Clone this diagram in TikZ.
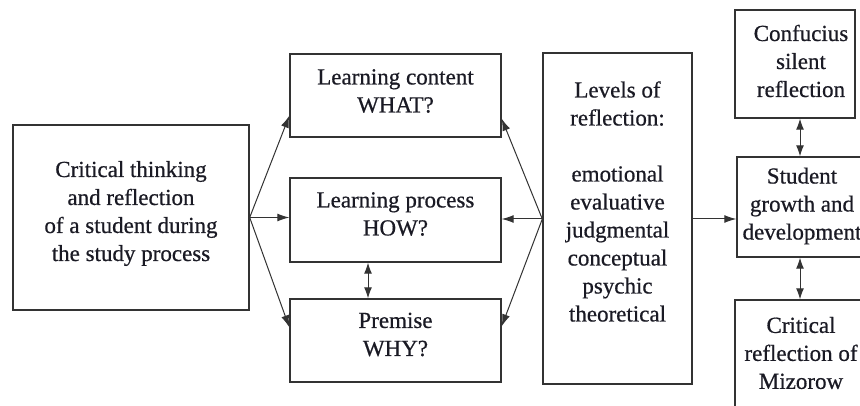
\documentclass[tikz,border=0pt]{standalone}
\usepackage{fontspec}
\setmainfont[FakeBold=0.6]{Liberation Serif}
\usetikzlibrary{arrows.meta,calc}
\definecolor{linec}{HTML}{333333}
\definecolor{textc}{HTML}{1A1A24}
\tikzset{
  box/.style={draw=linec, line width=1.4pt, inner sep=0pt, fill=white},
  txt/.style={align=center, text=textc, font=\fontsize{23}{28}\selectfont, inner sep=0pt},
  conn/.style={draw=linec, line width=1pt, -{Latex[length=12pt,width=8pt]}},
  dconn/.style={draw=linec, line width=1pt, {Latex[length=11pt,width=8pt]}-{Latex[length=11pt,width=8pt]}}
}
\begin{document}
\begin{tikzpicture}[x=1pt,y=-1pt]
\useasboundingbox (0,0) rectangle (860,406);
\clip (0,0) rectangle (860,406);
\fill[white] (0,0) rectangle (860,406);

\node[box, minimum width=236pt, minimum height=185pt,
  label={[txt, yshift=4pt]center:{Critical thinking\\and reflection\\of a student during\\the study process}}]
  (left) at (131,217.5) {};
\node[box, minimum width=211pt, minimum height=83pt,
  label={[txt, yshift=4.5pt]center:{Learning content\\WHAT?}}]
  (lc) at (395.5,95.5) {};
\node[box, minimum width=211pt, minimum height=84pt,
  label={[txt, yshift=6pt]center:{Learning process\\HOW?}}]
  (lp) at (395.5,220) {};
\node[box, minimum width=211pt, minimum height=83pt,
  label={[txt, yshift=6pt]center:{Premise\\WHY?}}]
  (pr) at (395.5,340.5) {};
\node[box, minimum width=149pt, minimum height=331pt,
  label={[txt, yshift=17pt]center:{Levels of\\reflection:\\[28pt]emotional\\evaluative\\judgmental\\conceptual\\psychic\\theoretical}}]
  (lv) at (617.5,218.5) {};
\node[box, minimum width=120pt, minimum height=108pt,
  label={[txt, yshift=3pt, xshift=6pt]center:{Confucius\\silent\\reflection}}]
  (cf) at (795,64) {};
\node[box, minimum width=130pt, minimum height=100pt,
  label={[txt, yshift=1pt]center:{Student\\growth and\\development}}]
  (sg) at (802,207) {};
\node[box, minimum width=132pt, minimum height=140pt,
  label={[txt, yshift=17pt]center:{Critical\\reflection of\\Mizorow}}]
  (cr) at (801,370) {};

% fan from left box
\coordinate (lo) at ($(left.south east)!0.5!(left.north east)$);
\draw[conn] (lo) -- ([yshift=22pt]lc.south west);
\draw[conn] (lo) -- (lo -| lp.west);
\draw[conn] (lo) -- ([yshift=-29pt]pr.north west);

% fan from levels box
\coordinate (ro) at ([yshift=-0.5pt]lv.west);
\draw[conn] (ro) -- ([yshift=19pt]lc.south east);
\draw[conn] (ro) -- (ro -| lp.east);
\draw[conn] (ro) -- ([yshift=-28pt]pr.north east);

% levels to student
\draw[conn] (lv.east |- ro) -- (sg.west |- ro);

% vertical double arrows
\draw[dconn] ([xshift=-27.5pt]lp.south) -- ([xshift=-27.5pt]lp.south |- pr.north);
\draw[dconn] ([xshift=5pt]cf.south) -- ([xshift=5pt]cf.south |- sg.north);
\draw[dconn] ([xshift=-2pt]sg.south) -- ([xshift=-2pt]sg.south |- cr.north);
\end{tikzpicture}
\end{document}
